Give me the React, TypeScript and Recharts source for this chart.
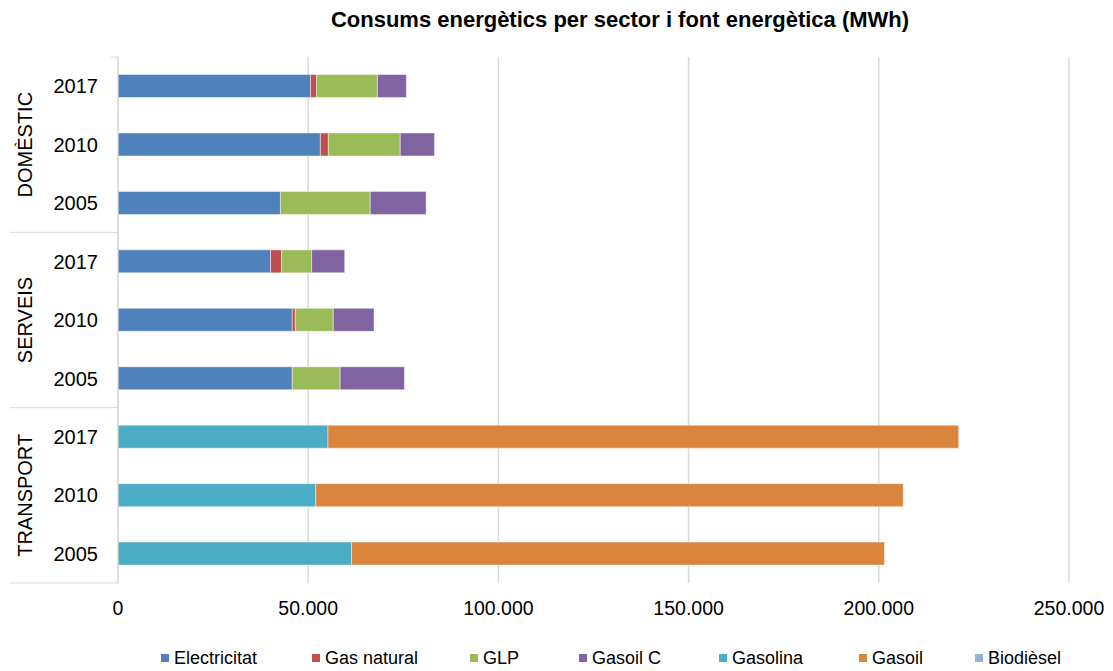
import React from 'react';
import { BarChart, Bar, XAxis, YAxis, CartesianGrid, Legend, ReferenceArea } from 'recharts';

const sectors = ['DOMÈSTIC', 'SERVEIS', 'TRANSPORT'];
const years = ['2017', '2010', '2005'];

// values in MWh, one per row (sector x year, top to bottom)
const electricitat = [50600, 53200, 42700, 40100, 45800, 45800, 0, 0, 0];
const gasNatural = [1600, 2100, 0, 2900, 800, 0, 0, 0, 0];
const glp = [16000, 18900, 23600, 7900, 10000, 12600, 0, 0, 0];
const gasoilC = [7600, 9000, 14700, 8700, 10700, 16900, 0, 0, 0];
const gasolina = [0, 0, 0, 0, 0, 0, 55200, 52000, 61400];
const gasoil = [0, 0, 0, 0, 0, 0, 165800, 154400, 140100];
const biodiesel = [0, 0, 0, 0, 0, 0, 0, 0, 0];

const xTicks = [0, 50000, 100000, 150000, 200000, 250000];

const seriesNames = ['Electricitat', 'Gas natural', 'GLP', 'Gasoil C', 'Gasolina', 'Gasoil', 'Biodièsel'];
const seriesKeys = ['electricitat', 'gasNatural', 'glp', 'gasoilC', 'gasolina', 'gasoil', 'biodiesel'];
const seriesValues = [electricitat, gasNatural, glp, gasoilC, gasolina, gasoil, biodiesel];
const seriesColors = ['#4F81BD', '#C0504D', '#9BBB59', '#8064A2', '#4BACC6', '#DB843D', '#95B3D7'];

const rows = sectors.flatMap((s, si) =>
  years.map((y, yi) => {
    const idx = si * years.length + yi;
    const row: Record<string, any> = { id: `${s}|${y}`, sector: s, year: y };
    seriesKeys.forEach((k, ki) => {
      row[k] = seriesValues[ki][idx];
    });
    return row;
  })
);

const FONT = '"Liberation Sans", Arial, sans-serif';
const LINE = '#d9d9d9';

const fmt = (v: number) => String(v).replace(/\B(?=(\d{3})+(?!\d))/g, '.');

const legendLefts = [161, 312, 470, 579, 719, 859, 975];

const LegendContent = () => (
  <div style={{ position: 'relative', width: 1113, height: 22, fontFamily: FONT, fontSize: 18, color: '#000' }}>
    {seriesNames.map((n, i) => (
      <div
        key={n}
        style={{
          position: 'absolute',
          left: legendLefts[i],
          top: 0,
          height: 22,
          display: 'flex',
          alignItems: 'center',
          whiteSpace: 'nowrap',
        }}
      >
        <span style={{ display: 'inline-block', width: 8, height: 8, background: seriesColors[i], marginRight: 5 }} />
        <span>{n}</span>
      </div>
    ))}
  </div>
);

const makeSectorShape = (name: string, first: boolean) => (props: any) => {
  const { x, y, height } = props;
  if (x == null || y == null || height == null) return <g />;
  const cy = y + height / 2;
  return (
    <g>
      {first && <line x1={x - 7} y1={y} x2={x} y2={y} stroke={LINE} strokeWidth={1} />}
      <line x1={10} y1={y + height} x2={x} y2={y + height} stroke={LINE} strokeWidth={1} />
      <text
        x={25}
        y={cy}
        transform={`rotate(-90 25 ${cy})`}
        textAnchor="middle"
        dominantBaseline="central"
        fontFamily={FONT}
        fontSize={20}
        fill="#000"
      >
        {name}
      </text>
    </g>
  );
};

export default function App() {
  return (
    <div style={{ position: 'absolute', left: 0, top: 0, width: 1113, height: 671, background: '#fff' }}>
      <div
        style={{
          position: 'absolute',
          left: 220,
          top: 8,
          width: 800,
          textAlign: 'center',
          fontFamily: FONT,
          fontWeight: 'bold',
          fontSize: 22,
          lineHeight: '24px',
          color: '#000',
          whiteSpace: 'nowrap',
        }}
      >
        Consums energètics per sector i font energètica (MWh)
      </div>
      <BarChart
        width={1113}
        height={671}
        data={rows}
        layout="vertical"
        margin={{ top: 57, right: 44, left: 0, bottom: 36 }}
        barCategoryGap="30%"
      >
        <CartesianGrid horizontal={false} vertical={true} stroke={LINE} strokeWidth={1.5} />
        <XAxis
          type="number"
          domain={[0, 250000]}
          ticks={xTicks}
          tickFormatter={fmt}
          axisLine={false}
          tickLine={false}
          tickSize={0}
          tickMargin={18}
          height={30}
          tick={{ fontFamily: FONT, fontSize: 19.5, fill: '#000' }}
          interval={0}
        />
        <YAxis
          type="category"
          dataKey="id"
          width={118}
          tickLine={false}
          tickSize={0}
          tickMargin={20}
          axisLine={{ stroke: LINE, strokeWidth: 1 }}
          tickFormatter={(v: string) => String(v).split('|')[1]}
          tick={{ fontFamily: FONT, fontSize: 20, fill: '#000' }}
          interval={0}
        />
        {sectors.map((s, si) => (
          <ReferenceArea
            key={s}
            y1={`${s}|${years[0]}`}
            y2={`${s}|${years[years.length - 1]}`}
            ifOverflow="visible"
            shape={makeSectorShape(s, si === 0)}
          />
        ))}
        {seriesKeys.map((k, i) => (
          <Bar
            key={k}
            dataKey={k}
            name={seriesNames[i]}
            stackId="a"
            fill={seriesColors[i]}
            stroke="rgba(255,255,255,0.45)"
            strokeWidth={1}
            isAnimationActive={false}
          />
        ))}
        <Legend content={<LegendContent />} wrapperStyle={{ top: 647, left: 0, width: 1113, height: 22 }} />
      </BarChart>
    </div>
  );
}
